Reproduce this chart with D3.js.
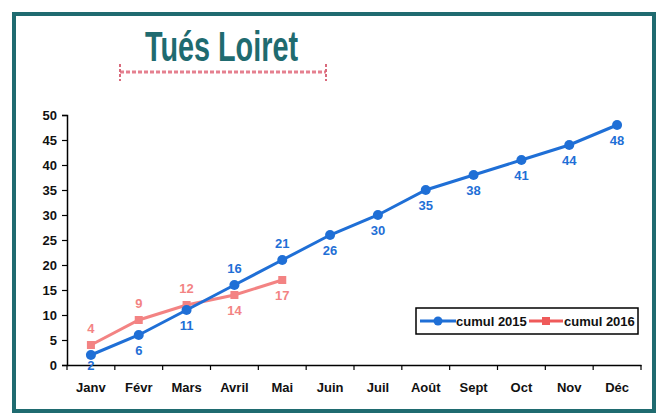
<!DOCTYPE html>
<html>
<head>
<meta charset="utf-8">
<script src="https://cdn.jsdelivr.net/npm/d3@7"></script>
<style>
body { margin: 0; background: #fff; }
svg { display: block; }
</style>
</head>
<body>
<div id="chart"></div>
<script>
const months = ["Janv","Févr","Mars","Avril","Mai","Juin","Juil","Août","Sept","Oct","Nov","Déc"];
const cumul2015 = [2,6,11,16,21,26,30,35,38,41,44,48];
const cumul2016 = [4,9,12,14,17];
// label placement: true = above point
const above2015 = [false,false,false,true,true,false,false,false,false,false,false,false];
const above2016 = [true,true,true,false,false];
const yTicks = [0,5,10,15,20,25,30,35,40,45,50];

const width = 659, height = 417;
const blue = "#1f6fd6";
const red = "#ef5a5a";
const teal = "#1f6b70";

const svg = d3.select("#chart").append("svg")
    .attr("width",width)
    .attr("height",height);

// frame
svg.append("rect")
    .attr("x",14).attr("y",14)
    .attr("width",640).attr("height",397)
    .attr("fill","none")
    .attr("stroke",teal)
    .attr("stroke-width",4);

// title
svg.append("text")
    .text("Tués Loiret")
    .attr("x",145).attr("y",61)
    .attr("textLength",153)
    .attr("lengthAdjust","spacingAndGlyphs")
    .attr("font-family","'Liberation Sans',Arial,sans-serif")
    .attr("font-weight","bold")
    .attr("font-size",42)
    .attr("fill",teal);

// decorative underline
svg.append("line")
    .attr("x1",120).attr("x2",326)
    .attr("y1",72).attr("y2",72)
    .attr("stroke","#e5808f")
    .attr("stroke-width",3)
    .attr("stroke-dasharray","4,2");
[120,326].forEach(x =>
{
    svg.append("line")
        .attr("x1",x).attr("x2",x)
        .attr("y1",64).attr("y2",81)
        .attr("stroke","#d96a7c")
        .attr("stroke-width",2)
        .attr("stroke-dasharray","3,2");
});

const x = d3.scaleBand().domain(months).range([67,641]);
const y = d3.scaleLinear().domain([0,50]).range([365,115]);

const fontAxis = "'Liberation Sans',Arial,sans-serif";

// y axis
const yAxis = svg.append("g")
    .attr("transform","translate(67,0)")
    .call(d3.axisLeft(y).tickValues(yTicks).tickSize(5).tickPadding(5));
yAxis.select(".domain").attr("stroke","#000").attr("stroke-width",1.5);
yAxis.selectAll(".tick line").attr("stroke","#000").attr("stroke-width",1.2);
yAxis.selectAll("text")
    .attr("font-family",fontAxis)
    .attr("font-weight","bold")
    .attr("font-size",13)
    .attr("fill","#111");

// x axis with ticks between categories
const xAxis = svg.append("g")
    .attr("transform","translate(0,365)")
    .call(d3.axisBottom(x).tickSize(0).tickPadding(18).tickSizeOuter(0));
xAxis.select(".domain").attr("stroke","#000").attr("stroke-width",1.5);
xAxis.selectAll("text")
    .attr("font-family",fontAxis)
    .attr("font-weight","bold")
    .attr("font-size",13)
    .attr("fill","#111");
xAxis.selectAll(".sep")
    .data(d3.range(months.length+1))
    .enter()
    .append("line")
    .attr("class","sep")
    .attr("x1",i => 67+i*x.step())
    .attr("x2",i => 67+i*x.step())
    .attr("y1",0).attr("y2",5)
    .attr("stroke","#000")
    .attr("stroke-width",1.2);

const cx = i => x(months[i])+x.bandwidth()/2;

const line = d3.line()
    .x((d,i) => cx(i))
    .y(d => y(d));

// 2016 series (faded red)
const g16 = svg.append("g").attr("opacity",0.75);
g16.append("path")
    .datum(cumul2016)
    .attr("d",line)
    .attr("fill","none")
    .attr("stroke",red)
    .attr("stroke-width",3);
g16.selectAll("rect")
    .data(cumul2016)
    .enter()
    .append("rect")
    .attr("x",(d,i) => cx(i)-4)
    .attr("y",d => y(d)-4)
    .attr("width",8).attr("height",8)
    .attr("fill",red);
g16.selectAll("text")
    .data(cumul2016)
    .enter()
    .append("text")
    .text(d => d)
    .attr("x",(d,i) => cx(i))
    .attr("y",(d,i) => above2016[i] ? y(d)-12 : y(d)+20)
    .attr("text-anchor","middle")
    .attr("font-family",fontAxis)
    .attr("font-weight","bold")
    .attr("font-size",13)
    .attr("fill",red);

// 2015 series
const g15 = svg.append("g");
g15.append("path")
    .datum(cumul2015)
    .attr("d",line)
    .attr("fill","none")
    .attr("stroke",blue)
    .attr("stroke-width",3);
g15.selectAll("circle")
    .data(cumul2015)
    .enter()
    .append("circle")
    .attr("cx",(d,i) => cx(i))
    .attr("cy",d => y(d))
    .attr("r",5)
    .attr("fill",blue);
g15.selectAll("text")
    .data(cumul2015)
    .enter()
    .append("text")
    .text(d => d)
    .attr("x",(d,i) => cx(i))
    .attr("y",(d,i) => above2015[i] ? y(d)-12 : y(d)+(i==0 ? 15 : 20))
    .attr("text-anchor","middle")
    .attr("font-family",fontAxis)
    .attr("font-weight","bold")
    .attr("font-size",13)
    .attr("fill",blue);

// legend
const legend = svg.append("g").attr("transform","translate(416,308)");
legend.append("rect")
    .attr("width",222).attr("height",26)
    .attr("fill","#fff")
    .attr("stroke","#000")
    .attr("stroke-width",1.5);
legend.append("line")
    .attr("x1",4).attr("x2",40).attr("y1",13).attr("y2",13)
    .attr("stroke",blue).attr("stroke-width",3);
legend.append("circle")
    .attr("cx",22).attr("cy",13).attr("r",4.5).attr("fill",blue);
legend.append("text")
    .text("cumul 2015")
    .attr("x",40).attr("y",18)
    .attr("font-family",fontAxis)
    .attr("font-weight","bold")
    .attr("font-size",13)
    .attr("fill","#111");
legend.append("line")
    .attr("x1",113).attr("x2",147).attr("y1",13).attr("y2",13)
    .attr("stroke",red).attr("stroke-width",3);
legend.append("rect")
    .attr("x",126).attr("y",9).attr("width",8).attr("height",8).attr("fill",red);
legend.append("text")
    .text("cumul 2016")
    .attr("x",148).attr("y",18)
    .attr("font-family",fontAxis)
    .attr("font-weight","bold")
    .attr("font-size",13)
    .attr("fill","#111");
</script>
</body>
</html>
